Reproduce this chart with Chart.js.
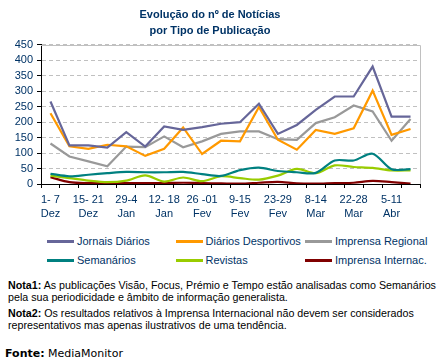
<!DOCTYPE html>
<html>
<head>
<meta charset="utf-8">
<script src="https://cdn.jsdelivr.net/npm/chart.js@4.4.0/dist/chart.umd.min.js"></script>
<style>
  body { margin: 0; background: #fff; width: 439px; height: 360px; overflow: hidden; position: relative; font-family: "Liberation Sans", Arial, sans-serif; }
  #wrap { position: absolute; left: 0; top: 0; width: 439px; height: 228px; }
  .leg { position: absolute; font-size: 11px; color: #003366; height: 14px; line-height: 14px; white-space: nowrap; }
  .leg i { position: absolute; left: -30px; top: 5.5px; width: 27px; height: 3px; }
  #notes { position: absolute; left: 8px; top: 278.5px; font-size: 10.7px; line-height: 12.5px; color: #000; white-space: nowrap; }
  #notes p { margin: 0 0 3.3px 0; }
  #fonte { position: absolute; left: 5px; top: 347px; font-family: "DejaVu Sans", Verdana, sans-serif; font-size: 11px; line-height: 14px; color: #000; }
</style>
</head>
<body>
<div id="wrap"><canvas id="chart" width="439" height="228"></canvas></div>
<div id="legend"></div>
<div id="notes">
  <p><b>Nota1:</b> As publicações Visão, Focus, Prémio e Tempo estão analisadas como Semanários<br>pela sua periodicidade e âmbito de informação generalista.</p>
  <p><b>Nota2:</b> Os resultados relativos à Imprensa Internacional não devem ser considerados<br>representativos mas apenas ilustrativos de uma tendência.</p>
</div>
<div id="fonte"><b>Fonte:</b> MediaMonitor</div>
<script>
// semanas (Dez 2003 - Abr 2004)
const weekLabels = [
  ['1- 7', 'Dez'], ['8-14', 'Dez'], ['15- 21', 'Dez'], ['22-28', 'Dez'],
  ['29-4', 'Jan'], ['5-11', 'Jan'], ['12- 18', 'Jan'], ['19-25', 'Jan'],
  ['26 -01', 'Fev'], ['2-8', 'Fev'], ['9-15', 'Fev'], ['16-22', 'Fev'],
  ['23-29', 'Fev'], ['1-7', 'Mar'], ['8-14', 'Mar'], ['15-21', 'Mar'],
  ['22-28', 'Mar'], ['29-4', 'Abr'], ['5-11', 'Abr'], ['12-18', 'Abr']
];

const jornaisDiarios     = [267, 125, 125, 118, 168, 121, 186, 175, 184, 195, 200, 260, 162, 191, 240, 283, 283, 380, 218, 218];
const diariosDesportivos = [229, 122, 114, 127, 122, 91, 114, 183, 97, 140, 138, 249, 143, 111, 175, 162, 180, 302, 159, 178];
const imprensaRegional   = [131, 89, 73, 57, 121, 119, 154, 119, 138, 162, 170, 170, 145, 143, 197, 216, 254, 235, 140, 210];
const semanarios         = [33, 25, 30, 35, 39, 38, 38, 39, 32, 26, 45, 53, 42, 38, 36, 76, 76, 98, 48, 48];
const revistas           = [27, 19, 11, 6, 11, 28, 8, 21, 9, 25, 19, 14, 27, 49, 35, 60, 55, 52, 44, 44];
const imprensaInternac   = [22, 6, 3, 3, 3, 3, 3, 4, 3, 2, 1, 4, 7, 2, 1, 3, 4, 10, 6, 1];

const yTicks = [0, 50, 100, 150, 200, 250, 300, 350, 400, 450];

const seriesNames  = ['Jornais Diários', 'Diários Desportivos', 'Imprensa Regional', 'Semanários', 'Revistas', 'Imprensa Internac.'];
const seriesData   = [jornaisDiarios, diariosDesportivos, imprensaRegional, semanarios, revistas, imprensaInternac];
const seriesColors = ['#666699', '#ff9900', '#999999', '#008080', '#99cc00', '#800000'];
const seriesTension = [0, 0, 0, 0.3, 0.3, 0.3];

const navy = '#003366';

// moldura cinzenta em cima e à direita da área do gráfico
const plotFrame = {
  id: 'plotFrame',
  beforeDatasetsDraw(chart) {
    const { ctx, chartArea: a } = chart;
    ctx.save();
    ctx.strokeStyle = '#c0c0c0';
    ctx.lineWidth = 1;
    ctx.beginPath();
    ctx.moveTo(a.left, Math.round(a.top) + 0.5);
    ctx.lineTo(Math.round(a.right) + 0.5, Math.round(a.top) + 0.5);
    ctx.lineTo(Math.round(a.right) + 0.5, a.bottom);
    ctx.stroke();
    ctx.restore();
  }
};

new Chart(document.getElementById('chart'), {
  type: 'line',
  data: {
    labels: weekLabels,
    datasets: seriesNames.map((name, i) => ({
      label: name,
      data: seriesData[i],
      borderColor: seriesColors[i],
      backgroundColor: seriesColors[i],
      borderWidth: 2.2,
      pointRadius: 0,
      tension: seriesTension[i],
      fill: false
    }))
  },
  options: {
    responsive: false,
    animation: false,
    layout: { padding: { left: 0, right: 19, top: 0, bottom: 0 } },
    plugins: {
      legend: { display: false },
      tooltip: { enabled: false },
      title: {
        display: true,
        text: ['Evolução do nº de Notícias', 'por Tipo de Publicação'],
        color: navy,
        font: { family: '"Liberation Sans", Arial, sans-serif', size: 11, weight: 'bold', lineHeight: 1.45 },
        padding: { top: 7, bottom: 6 }
      }
    },
    scales: {
      x: {
        offset: true,
        grid: { offset: true, drawOnChartArea: false, tickLength: 4, tickColor: '#000' },
        border: { color: '#000', width: 1 },
        ticks: {
          autoSkip: false,
          maxRotation: 0,
          padding: 4,
          color: navy,
          font: { family: '"Liberation Sans", Arial, sans-serif', size: 11, lineHeight: 1.36 },
          callback: (v, i) => (i % 2 === 0 ? weekLabels[i] : '')
        },
        afterFit: (scale) => { scale.height = 44; }
      },
      y: {
        min: yTicks[0],
        max: yTicks[yTicks.length - 1],
        afterBuildTicks: (scale) => { scale.ticks = yTicks.map(v => ({ value: v })); },
        grid: {
          color: (c) => (c.tick && c.tick.value === 0 ? 'rgba(0,0,0,0)' : '#c0c0c0'),
          tickColor: '#000',
          tickLength: 4,
          lineWidth: 1
        },
        border: { color: '#000', width: 1, dash: [4, 3] },
        ticks: {
          autoSkip: false,
          padding: 4,
          color: navy,
          font: { family: '"Liberation Sans", Arial, sans-serif', size: 11 }
        },
        afterFit: (scale) => { scale.width = 41; }
      }
    }
  },
  plugins: [plotFrame]
});

// legenda em 3 colunas x 2 linhas
const legendCols = [77, 205.5, 335];
const legendRows = [234, 253];
const legend = document.getElementById('legend');
seriesNames.forEach((name, i) => {
  const el = document.createElement('div');
  el.className = 'leg';
  el.style.left = legendCols[i % 3] + 'px';
  el.style.top = legendRows[Math.floor(i / 3)] + 'px';
  el.innerHTML = '<i style="background:' + seriesColors[i] + '"></i>' + name;
  legend.appendChild(el);
});
</script>
</body>
</html>
